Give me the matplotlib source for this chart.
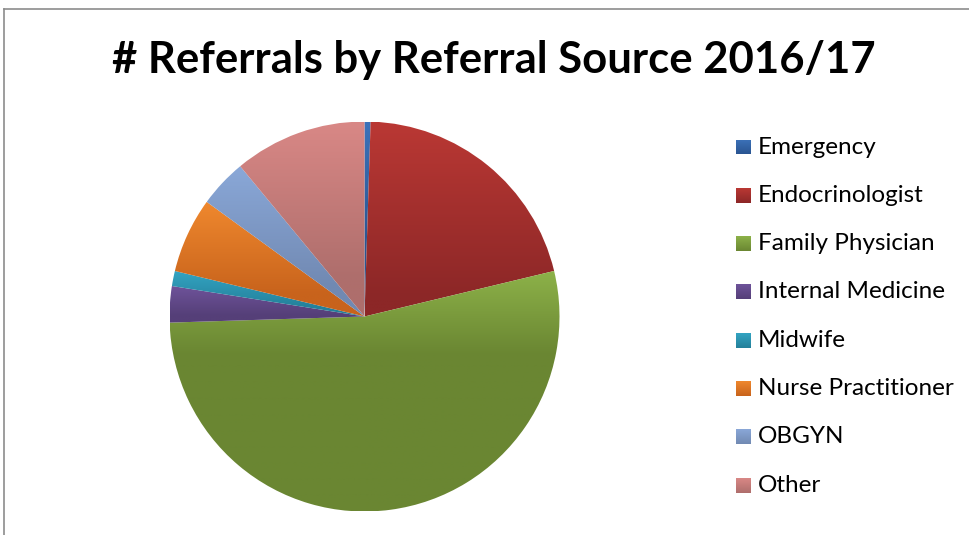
import matplotlib
matplotlib.use('Agg')
import matplotlib.pyplot as plt
import numpy as np
from matplotlib.lines import Line2D
from matplotlib.colors import to_rgb

# referral counts (share of total)
sources = ['Emergency', 'Endocrinologist', 'Family Physician', 'Internal Medicine',
           'Midwife', 'Nurse Practitioner', 'OBGYN', 'Other']
referrals = [2, 83, 213, 12, 5, 25, 16, 44]

# excel-like gradient colors, top (light) -> bottom (dark)
light = ['#3C72BA', '#BA3834', '#8DB249', '#6E539A', '#33A4C2', '#EF882E', '#8AA8D8', '#D98886']
dark = ['#2A5591', '#8C2727', '#6A8632', '#553F78', '#24809A', '#C8631C', '#7189B2', '#AE6E6C']
reach = [0.65, 0.9, 0.35, 0.8, 0.8, 0.8, 0.8, 0.8]

W, H = 969, 535
fig = plt.figure(figsize=(W / 100, H / 100), dpi=100)

# chart frame (top and left edge visible)
fig.add_artist(Line2D([4 / W, 1.0], [1 - 9 / H, 1 - 9 / H], color='#8C8C8C', lw=1.2))
fig.add_artist(Line2D([4 / W, 4 / W], [0, 1 - 9 / H], color='#8C8C8C', lw=1.2))

fig.text(494 / W, 1 - 60 / H, '# Referrals by Referral Source 2016/17',
         ha='center', va='center', fontsize=31.4, fontweight='bold', family='Lato')


def grad_img(c1, c2, k=0.65, n=256):
    a = np.array(to_rgb(c1))
    b = np.array(to_rgb(c2))
    t = np.linspace(0, 1, n)
    t = np.minimum(1, t / k)
    img = a[None, :] + (b - a)[None, :] * t[:, None]
    return img[:, None, :]


cx, cy, r = 364.5, 316.5, 195
ax = fig.add_axes([(cx - r) / W, (H - cy - r) / H, 2 * r / W, 2 * r / H])

wedges, _ = ax.pie(referrals, startangle=90, counterclock=False, radius=1.0,
                   wedgeprops=dict(linewidth=0))

for w, c1, c2, k in zip(wedges, light, dark, reach):
    ext = w.get_path().get_extents(w.get_patch_transform())
    w.set_facecolor('none')
    im = ax.imshow(grad_img(c1, c2, k), extent=[ext.x0, ext.x1, ext.y0, ext.y1],
                   origin='upper', aspect='auto', interpolation='bilinear', zorder=1)
    im.set_clip_path(w)

ax.set_xlim(-1.0, 1.0)
ax.set_ylim(-1.0, 1.0)
ax.set_aspect('equal')
ax.axis('off')

# legend
ly0, dy, sw = 147, 48.3, 15
for i, (name, c1, c2) in enumerate(zip(sources, light, dark)):
    y = ly0 + i * dy
    sax = fig.add_axes([736 / W, (H - y - sw / 2) / H, sw / W, sw / H])
    sax.imshow(grad_img(c1, c2, 1.0), aspect='auto', interpolation='bilinear')
    sax.axis('off')
    fig.text(758 / W, (H - y) / H, name, ha='left', va='center', fontsize=17.5, family='Lato')

fig.savefig('out.png', dpi=100, facecolor='white')
